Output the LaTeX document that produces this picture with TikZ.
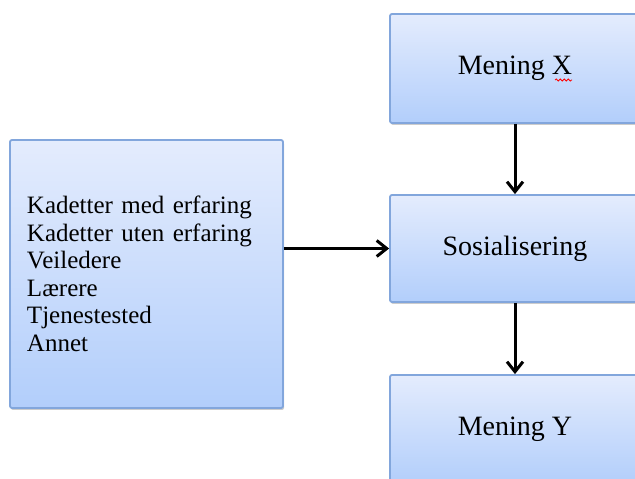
\documentclass[tikz,border=0pt]{standalone}
\usepackage{fontspec}
\setmainfont{Liberation Serif}
\usetikzlibrary{arrows.meta,shadows,decorations.pathmorphing}
\definecolor{boxtop}{RGB}{228,236,253}
\definecolor{boxbot}{RGB}{178,206,251}
\definecolor{boxline}{RGB}{130,166,220}
\begin{document}
\begin{tikzpicture}[x=1pt,y=1pt,
  box/.style={draw=boxline, line width=1.8pt, rounded corners=2pt, top color=boxtop, bottom color=boxbot,
    drop shadow={shadow xshift=1pt, shadow yshift=-2pt, opacity=0.4},
    font=\fontsize{28}{32}\selectfont},
  pil/.style={line width=3pt, -{Straight Barb[length=10pt,width=16pt,line width=3pt]}}]
\useasboundingbox (0,0) rectangle (635,479);
\clip (0,0) rectangle (635,479);

% hovedboksene til hoyre
\node[box, minimum width=250pt, minimum height=109pt] (meningx) at (515,410.5) {Mening X};
\node[box, minimum width=250pt, minimum height=107pt] (sos) at (515,230.5) {Sosialisering};
\node[box, minimum width=250pt, minimum height=109pt] (meningy) at (515,49.5) {Mening Y};

% kildene til venstre
\node[box, minimum width=273pt, minimum height=268pt, text width=239pt, align=left,
  font=\fontsize{25}{27.5}\selectfont] (kilder) at (146.5,205)
  {Kadetter med erfaring\\Kadetter uten erfaring\\Veiledere\\L\ae rere\\Tjenestested\\Annet};

\draw[pil] (kilder.east |- sos.west) -- (sos.west);
\draw[pil] (meningx.south) -- (sos.north);
\draw[pil] (sos.south) -- (meningy.north);

% stavekontroll-strek under X
\draw[red, line width=0.8pt, decorate, decoration={snake, amplitude=1pt, segment length=4pt}]
  (555,399) -- (572,399);
\end{tikzpicture}
\end{document}
